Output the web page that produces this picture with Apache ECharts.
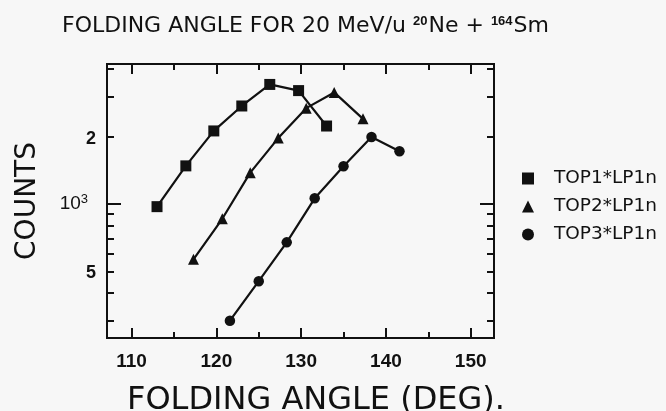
<!DOCTYPE html>
<html>
<head>
<meta charset="utf-8">
<script src="https://cdn.jsdelivr.net/npm/echarts@6/dist/echarts.min.js"></script>
<style>
  html, body { margin: 0; padding: 0; background: #f7f7f7; }
  #chart { width: 666px; height: 411px; }
</style>
</head>
<body>
<div id="chart"></div>
<script>
// Folding-angle distributions, counts on a log scale
const top1Angle = [113.0, 116.4, 119.7, 123.0, 126.3, 129.7, 133.0];
const top1Counts = [973, 1480, 2120, 2740, 3420, 3210, 2230];
const top2Angle = [117.3, 120.7, 124.0, 127.3, 130.6, 133.9, 137.3];
const top2Counts = [566, 859, 1380, 1970, 2680, 3150, 2400];
const top3Angle = [121.6, 125.0, 128.3, 131.6, 135.0, 138.3, 141.6];
const top3Counts = [301, 452, 674, 1060, 1474, 1993, 1720];

const seriesNames = ['TOP1*LP1n', 'TOP2*LP1n', 'TOP3*LP1n'];
const xMajorTicks = [110, 120, 130, 140, 150];
const xMinorTicks = [115, 125, 135, 145];
const yLabelValues = [500, 1000, 2000];
const yMajorTicks = [1000];
const yMinorTicks = [300, 400, 500, 600, 700, 800, 900, 2000, 3000, 4000];

const FONT = "'DejaVu Sans',sans-serif";
const NARROW = "'Liberation Sans','Roboto',sans-serif";
const INK = '#111';

function pairs(xs, ys) { return xs.map((x, i) => [x, ys[i]]); }

const X_MIN = 107.1, X_MAX = 152.75;
const Y_MIN = 252, Y_MAX = 4220;

function xAxisDef(pos, ticks, len, labels) {
  return {
    type: 'value', position: pos, min: X_MIN, max: X_MAX,
    axisLine: { show: true, onZero: false, lineStyle: { color: INK, width: 2 } },
    axisTick: { show: true, inside: true, length: len, customValues: ticks, lineStyle: { color: INK, width: 2 } },
    axisLabel: labels ? {
      show: true, customValues: xMajorTicks, margin: 14,
      color: INK, fontFamily: NARROW, fontSize: 19, fontWeight: 'bold'
    } : { show: false },
    splitLine: { show: false }
  };
}

function yAxisDef(pos, ticks, len, labels) {
  return {
    type: 'log', logBase: 10, position: pos, min: Y_MIN, max: Y_MAX,
    axisLine: { show: true, onZero: false, lineStyle: { color: INK, width: 2 } },
    axisTick: { show: true, inside: true, length: len, customValues: ticks, lineStyle: { color: INK, width: 2 } },
    axisLabel: labels ? {
      show: true, customValues: yLabelValues, margin: 11,
      color: INK, fontFamily: NARROW,
      formatter: function (v) {
        if (Math.abs(v - 1000) < 1) return '{p|10}{s|3}';
        return '{b|' + Math.round(v / Math.pow(10, Math.floor(Math.log10(v) + 1e-9))) + '}';
      },
      rich: {
        b: { fontSize: 18, fontWeight: 'bold', fontFamily: NARROW, color: INK, padding: [4, 0, 0, 0] },
        p: { fontSize: 19, fontFamily: NARROW, color: INK },
        s: { fontSize: 13, fontFamily: NARROW, color: INK, verticalAlign: 'bottom', padding: [0, 8, 10, 0] }
      }
    } : { show: false },
    splitLine: { show: false }
  };
}

const xAxes = [
  xAxisDef('bottom', xMajorTicks, 10, true),
  xAxisDef('bottom', xMinorTicks, 6, false),
  xAxisDef('top', xMajorTicks, 10, false),
  xAxisDef('top', xMinorTicks, 6, false)
];
xAxes[0].name = 'FOLDING ANGLE (DEG).';
xAxes[0].nameLocation = 'middle';
xAxes[0].nameGap = 47;
xAxes[0].nameTextStyle = { fontFamily: FONT, fontSize: 32, color: INK, padding: [0, 0, 0, 31] };

const yAxes = [
  yAxisDef('left', yMajorTicks, 14, true),
  yAxisDef('left', yMinorTicks, 7, false),
  yAxisDef('right', yMajorTicks, 14, false),
  yAxisDef('right', yMinorTicks, 7, false)
];
yAxes[0].name = 'COUNTS';
yAxes[0].nameLocation = 'middle';
yAxes[0].nameRotate = 90;
yAxes[0].nameGap = 65;
yAxes[0].nameTextStyle = { fontFamily: FONT, fontSize: 28, color: INK };

function lineSeries(name, data, symbol, size) {
  return {
    name: name, type: 'line', xAxisIndex: 0, yAxisIndex: 0,
    data: data, symbol: symbol, symbolSize: size,
    lineStyle: { color: INK, width: 2.2 },
    itemStyle: { color: INK, borderWidth: 0 },
    emphasis: { disabled: true },
    animation: false
  };
}

const chart = echarts.init(document.getElementById('chart'), null, { renderer: 'canvas' });
chart.setOption({
  backgroundColor: '#f7f7f7',
  animation: false,
  textStyle: { fontFamily: FONT },
  title: {
    text: 'FOLDING ANGLE FOR 20 MeV/u {s|20}Ne + {s|164}Sm',
    left: 62, top: 15, padding: 0,
    textStyle: {
      fontFamily: FONT, fontSize: 22, fontWeight: 'normal', color: INK,
      rich: {
        s: { fontFamily: NARROW, fontSize: 13, fontWeight: 'bold', color: INK, verticalAlign: 'bottom', padding: [0, 1, 10, 0] }
      }
    }
  },
  legend: {
    orient: 'vertical', left: 522, top: 169, padding: 0,
    itemWidth: 12, itemHeight: 12, itemGap: 9,
    data: [
      { name: seriesNames[0], icon: 'rect' },
      { name: seriesNames[1], icon: 'triangle' },
      { name: seriesNames[2], icon: 'circle' }
    ],
    textStyle: { fontFamily: FONT, fontSize: 18.5, color: INK, padding: [0, 0, 0, 15] },
    selectedMode: false
  },
  grid: { left: 107, right: 172, top: 64, bottom: 73, containLabel: false, outerBoundsMode: 'none' },
  xAxis: xAxes,
  yAxis: yAxes,
  series: [
    lineSeries(seriesNames[0], pairs(top1Angle, top1Counts), 'rect', 11),
    lineSeries(seriesNames[1], pairs(top2Angle, top2Counts), 'triangle', 11),
    lineSeries(seriesNames[2], pairs(top3Angle, top3Counts), 'circle', 10.5)
  ]
});
</script>
</body>
</html>
